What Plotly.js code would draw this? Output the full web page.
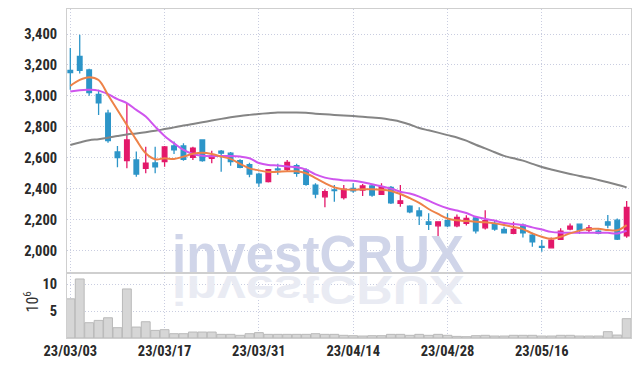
<!DOCTYPE html>
<html>
<head>
<meta charset="utf-8">
<script src="https://cdn.plot.ly/plotly-3.0.1.min.js"></script>
<style>
html,body{margin:0;padding:0;background:#fff;}
#chart{width:639px;height:366px;}
</style>
</head>
<body>
<div id="chart"></div>
<script>
const dates = ['23/03/03','23/03/06','23/03/07','23/03/08','23/03/09','23/03/10','23/03/13','23/03/14','23/03/15','23/03/16',
'23/03/17','23/03/20','23/03/21','23/03/22','23/03/23','23/03/24','23/03/27','23/03/28','23/03/29','23/03/30',
'23/03/31','23/04/03','23/04/04','23/04/05','23/04/06','23/04/07','23/04/10','23/04/11','23/04/12','23/04/13',
'23/04/14','23/04/17','23/04/18','23/04/19','23/04/20','23/04/21','23/04/24','23/04/25','23/04/26','23/04/27',
'23/04/28','23/05/02','23/05/03','23/05/04','23/05/08','23/05/09','23/05/10','23/05/11','23/05/12','23/05/15',
'23/05/16','23/05/17','23/05/18','23/05/19','23/05/22','23/05/23','23/05/24','23/05/25','23/05/26','23/05/30'];

const openP = [3165,3255,3168,3010,2888,2637,2581,2585,2531,2566,2574,2676,2676,2603,2715,2596,2643,2629,2581,2555,
2494,2445,2527,2525,2548,2520,2423,2347,2392,2341,2402,2391,2417,2363,2408,2305,2287,2255,2185,2159,
2192,2159,2175,2211,2146,2175,2136,2110,2164,2099,2026,2017,2071,2138,2170,2132,2125,2185,2196,2095];
const highP = [3310,3395,3175,3040,2910,2676,2953,2640,2671,2670,2676,2704,2693,2671,2720,2645,2650,2637,2590,2568,
2503,2525,2560,2585,2560,2531,2434,2395,2423,2423,2434,2430,2428,2434,2417,2423,2293,2279,2240,2187,
2240,2233,2227,2218,2260,2196,2153,2185,2175,2114,2067,2084,2143,2175,2175,2164,2136,2229,2207,2319];
const lowP = [3040,3145,3000,2877,2697,2538,2531,2477,2499,2500,2542,2624,2581,2585,2574,2564,2509,2548,2531,2473,
2412,2440,2490,2510,2477,2419,2337,2279,2315,2330,2373,2352,2348,2358,2300,2283,2240,2164,2132,2090,
2150,2150,2162,2110,2136,2127,2110,2105,2084,2023,1991,2013,2067,2130,2106,2120,2104,2143,2067,2082];
const closeP = [3150,3165,3021,2955,2710,2600,2715,2494,2564,2540,2669,2650,2590,2661,2581,2611,2629,2574,2538,2494,
2438,2522,2521,2570,2499,2428,2365,2380,2387,2397,2385,2417,2358,2412,2308,2321,2250,2224,2168,2185,
2159,2214,2207,2127,2192,2138,2114,2136,2114,2056,2020,2067,2125,2157,2132,2146,2110,2164,2073,2279];

const volumeM = [7.3,11.0,2.85,3.28,3.77,1.92,9.14,2.04,3.03,1.42,1.55,0.8,0.8,1.11,1.11,1.11,0.68,0.68,0.5,0.8,
1.0,0.68,0.68,0.68,0.68,0.68,0.8,0.68,0.68,0.5,0.43,0.37,0.43,0.43,0.68,0.68,0.5,0.68,0.5,0.68,
0.5,0.3,0.25,0.43,0.5,0.37,0.37,0.5,0.5,0.5,0.37,0.37,0.5,0.5,0.37,0.37,0.37,1.18,0.55,3.6];

const maShort = [3065,3103,3121,3103,3006,2909,2812,2715,2629,2590,2596,2592,2607,2625,2632,2624,2607,2592,2560,2531,
2518,2507,2509,2512,2512,2499,2468,2436,2408,2395,2392,2395,2396,2393,2385,2365,2338,2308,2268,2236,
2207,2195,2190,2186,2182,2175,2165,2152,2138,2110,2088,2075,2088,2110,2128,2139,2140,2132,2130,2164];
const maMid = [3028,3037,3039,3034,3011,2979,2953,2909,2866,2801,2741,2693,2650,2624,2613,2610,2611,2611,2607,2596,
2566,2553,2549,2543,2538,2523,2492,2471,2460,2453,2450,2441,2428,2415,2400,2380,2368,2348,2322,2295,
2273,2258,2242,2218,2204,2193,2177,2171,2164,2149,2135,2120,2115,2114,2114,2114,2114,2114,2110,2127];
const maLong = [2682,2698,2713,2720,2729,2740,2750,2757,2765,2774,2785,2796,2808,2818,2829,2840,2851,2861,2870,2877,
2883,2888,2892,2892,2892,2890,2885,2881,2877,2873,2869,2865,2860,2855,2845,2833,2815,2792,2777,2762,
2746,2731,2710,2684,2660,2635,2612,2596,2581,2560,2540,2524,2509,2495,2481,2470,2456,2441,2425,2408];

const xTickLabels = ['23/03/03','23/03/17','23/03/31','23/04/14','23/04/28','23/05/16'];
const priceTicks = [2000,2200,2400,2600,2800,3000,3200,3400];
const volTicks = [5,10];

// choose the narrowest available sans face for tick labels
function fontExists(name){
  const c = document.createElement('canvas').getContext('2d');
  const s = '23/03/03 3,400 abcdefghijklmnopqrstuvwxyz';
  let diff = false;
  ['monospace','serif'].forEach(function(fb){
    c.font = '100px ' + fb; const a = c.measureText(s).width;
    c.font = '100px "' + name + '", ' + fb; const b = c.measureText(s).width;
    if (Math.abs(a-b) > 0.5) diff = true;
  });
  return diff;
}
const candidates = ['Liberation Sans Narrow','Noto Sans Condensed','Roboto Condensed','Open Sans Condensed','Liberation Sans'];
let tickFam = 'Liberation Sans';
for (const f of candidates) { if (fontExists(f)) { tickFam = f; break; } }
const mctx = document.createElement('canvas').getContext('2d');
mctx.font = 'bold 100px "' + tickFam + '"';
const w100 = mctx.measureText('23/03/03').width;
const tickSize = Math.max(12, Math.min(16, Math.round(5400 / w100 * 2) / 2));

const UP = '#e3186a', DOWN = '#2d95c8';
const tickFont = {family:'"' + tickFam + '", sans-serif', size:tickSize, color:'#2a2a2a', weight:'bold'};
const gridCol = '#c9cde0';

const traces = [
  {type:'bar', x:dates, y:volumeM, xaxis:'x', yaxis:'y2',
   marker:{color:'#d6d6d6', line:{color:'#b9b9b9', width:1}}, hoverinfo:'skip'},
  {type:'scatter', mode:'lines', x:dates, y:maLong, xaxis:'x', yaxis:'y',
   line:{color:'#858585', width:2, shape:'spline'}},
  {type:'scatter', mode:'lines', x:dates, y:maMid, xaxis:'x', yaxis:'y',
   line:{color:'#cf55ee', width:2, shape:'spline'}},
  {type:'scatter', mode:'lines', x:dates, y:maShort, xaxis:'x', yaxis:'y',
   line:{color:'#ee8248', width:2, shape:'spline'}},
  {type:'candlestick', x:dates, open:openP, high:highP, low:lowP, close:closeP, xaxis:'x', yaxis:'y',
   increasing:{line:{color:UP, width:1.3}, fillcolor:UP},
   decreasing:{line:{color:DOWN, width:1.3}, fillcolor:DOWN}, whiskerwidth:0}
];

const layout = {
  width:639, height:366,
  margin:{l:66.7, r:8.3, t:9.3, b:28.3},
  paper_bgcolor:'#fff', plot_bgcolor:'#fff',
  showlegend:false,
  bargap:0.06,
  xaxis:{type:'category', anchor:'y2', range:[-0.35,59.46], rangeslider:{visible:false},
    tickvals:xTickLabels, ticktext:xTickLabels, tickfont:tickFont, ticks:'', ticklabelstandoff:0,
    showgrid:true, gridcolor:gridCol, griddash:'1px,2px', gridwidth:1,
    showline:true, mirror:'all', linecolor:'#cfcfcf', linewidth:1},
  yaxis:{domain:[0.199,1], range:[1857,3562], tickvals:priceTicks, tickformat:',', tickfont:tickFont,
    ticks:'', ticklabelstandoff:6, showgrid:true, gridcolor:gridCol, griddash:'1px,2px', gridwidth:1,
    zeroline:false, showline:true, mirror:true, linecolor:'#cfcfcf', linewidth:1},
  yaxis2:{domain:[0,0.199], range:[0,12.2], tickvals:volTicks, tickfont:tickFont,
    ticks:'', ticklabelstandoff:6, showgrid:true, gridcolor:gridCol, griddash:'1px,2px', gridwidth:1,
    zeroline:false, showline:true, mirror:true, linecolor:'#cfcfcf', linewidth:1},
  annotations:[
    {text:'10<sup>6</sup>', xref:'paper', yref:'paper', x:-0.0633, y:0.109, xanchor:'center', yanchor:'middle',
     textangle:-90, showarrow:false, font:{family:'"' + tickFam + '", sans-serif', size:16, color:'#333'}},
    {text:'investCRUX', xref:'paper', yref:'paper', x:0.4456, y:0.16, xanchor:'center', yanchor:'bottom',
     showarrow:false, font:{family:'"Liberation Sans",Arial,sans-serif', size:51, color:'#d0d5e9', weight:'bold'}},
    {text:'investCRUX', xref:'paper', yref:'paper', x:0.4456, y:0.16, xanchor:'center', yanchor:'bottom',
     showarrow:false, font:{family:'"Liberation Sans",Arial,sans-serif', size:51, color:'#e9ebf3', weight:'bold'}}
  ]
};

Plotly.newPlot('chart', traces, layout, {staticPlot:true, displayModeBar:false}).then(function(){
  const anns = document.querySelectorAll('.annotation');
  if (anns.length > 2) {
    const t = anns[2].querySelector('text');
    const bb = t.getBBox();
    const axis = bb.y + bb.height * 0.81 + 2;
    t.setAttribute('transform', 'translate(0 ' + axis + ') scale(1 -0.8) translate(0 ' + (-axis) + ')');
  }
});
</script>
</body>
</html>
